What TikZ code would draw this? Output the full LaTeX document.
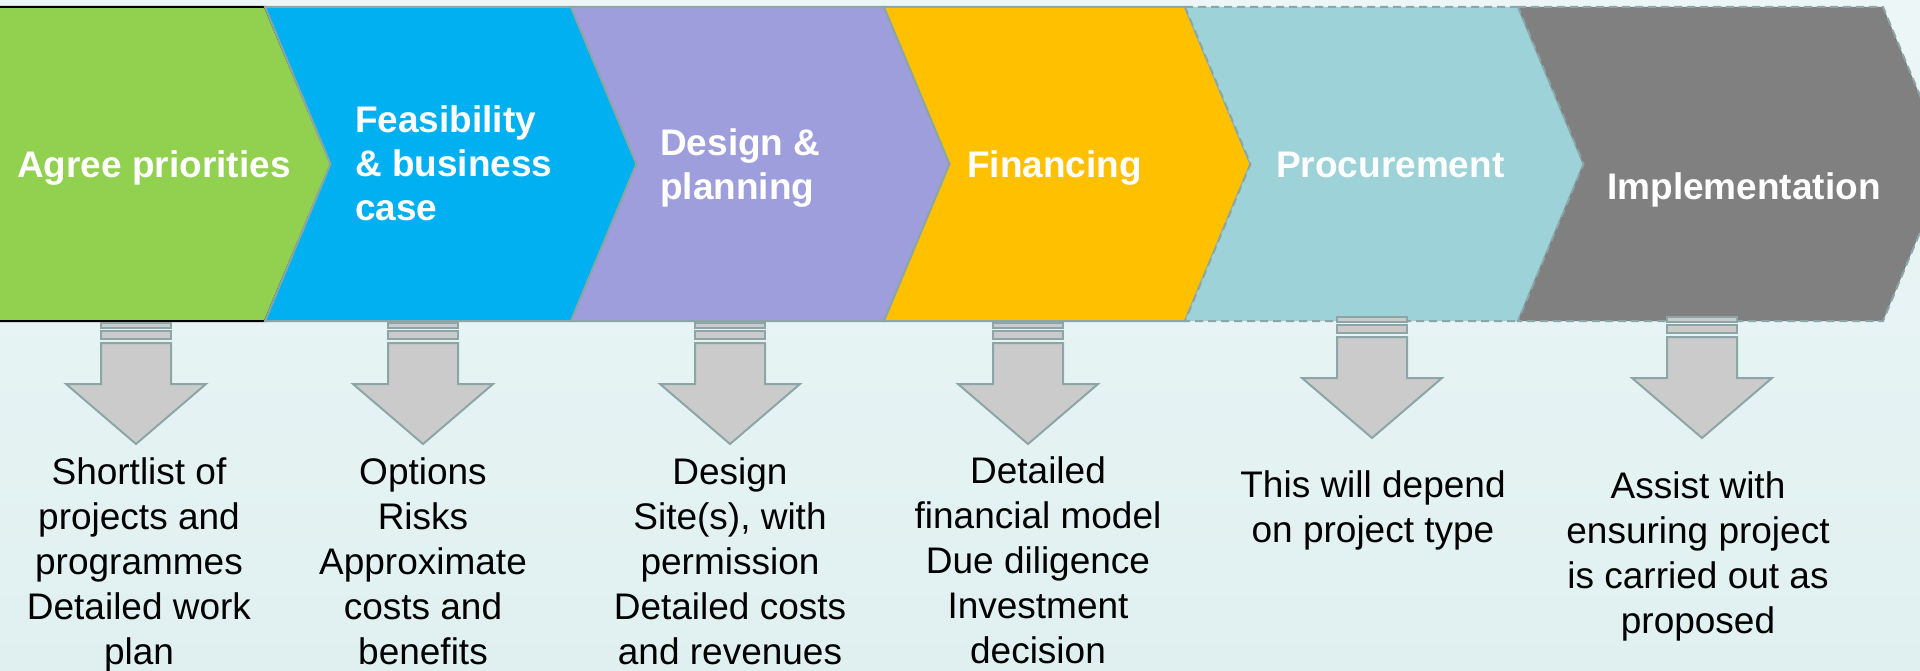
\documentclass[tikz,border=0pt]{standalone}
\usepackage{fontspec}
\setmainfont{Liberation Sans}
\usetikzlibrary{positioning}
\definecolor{bgtop}{HTML}{EDF6F7}
\definecolor{bgbot}{HTML}{E0F0F0}
\definecolor{edge}{HTML}{8CA6A8}
\definecolor{chevgreen}{HTML}{92D050}
\definecolor{chevblue}{HTML}{00B0F0}
\definecolor{chevpurple}{HTML}{9E9EDD}
\definecolor{chevorange}{HTML}{FFC000}
\definecolor{chevteal}{HTML}{9DD3D8}
\definecolor{chevgray}{HTML}{808080}
\definecolor{arrowgray}{HTML}{CBCBCB}
\begin{document}
\begin{tikzpicture}[x=1pt,y=-1pt,
  head/.style={text=white,font=\bfseries\fontsize{37}{44}\selectfont,align=left,anchor=base west,inner sep=0pt},
  note/.style={text=black,font=\fontsize{37}{45}\selectfont,align=center,anchor=base,inner sep=0pt},
  chev/.style={draw=edge,line width=2pt,line join=miter},
  solidedge/.style={solid},
  dashedge/.style={dash pattern=on 8pt off 5pt},
  dnarrow/.style={fill=arrowgray,draw=edge,line width=2pt}]
\useasboundingbox (0,0) rectangle (1920,671);
\clip (0,0) rectangle (1920,671);
\shade[top color=bgtop,bottom color=bgbot] (0,0) rectangle (1920,671);
%
% stages
\draw[fill=chevgreen,draw=black,line width=2pt] (-3,7) -- (265,7) -- (331,164) -- (265,321) -- (-3,321) -- cycle;
\foreach \l/\r/\c/\d in {265/571/chevblue/solidedge, 571/884/chevpurple/solidedge,
    884/1185/chevorange/solidedge, 1185/1518/chevteal/dashedge, 1518/1883/chevgray/dashedge}
  \draw[chev,fill=\c,\d] (\l,7) -- (\r,7) -- (\r+65.5,164) -- (\r,321) -- (\l,321) -- (\l+65.5,164) -- cycle;
%
% (base of a multi-line node = its last line)
\node[head] (agree) at (17,178) {Agree priorities};
\node[head] (feas) at (355,221) {Feasibility\\\& business\\case};
\node[head] (design) at (660,200) {Design \&\\planning};
\node[head] (fin) at (967,178) {Financing};
\node[head] (proc) at (1276,178) {Procurement};
\node[head] (impl) at (1607,200) {Implementation};
%
% down arrows
\foreach \n/\cx/\t in {1/136/323, 2/423/323, 3/730/323, 4/1028/323, 5/1372/317, 6/1702/317} {
  \coordinate (dn\n) at (\cx,\t);
  \draw[dnarrow] (dn\n) ++(-35,0) rectangle ++(70,5);
  \draw[dnarrow] (dn\n) ++(-35,8) rectangle ++(70,8);
  \draw[dnarrow] (dn\n) ++(-35,20) -- ++(70,0) -- ++(0,41) -- ++(35,0) -- ++(-70,60) -- ++(-70,-60) -- ++(35,0) -- cycle;
}
%
\node[note] (out1) at (139,664) {Shortlist of\\projects and\\programmes\\Detailed work\\plan};
\node[note] (out2) at (423,664) {Options\\Risks\\Approximate\\costs and\\benefits};
\node[note] (out3) at (730,664) {Design\\Site(s), with\\permission\\Detailed costs\\and revenues};
\node[note] (out4) at (1038,663) {Detailed\\financial model\\Due diligence\\Investment\\decision};
\node[note] (out5) at (1373,542) {This will depend\\on project type};
\node[note] (out6) at (1698,633) {Assist with\\ensuring project\\is carried out as\\proposed};
%
\end{tikzpicture}
\end{document}
